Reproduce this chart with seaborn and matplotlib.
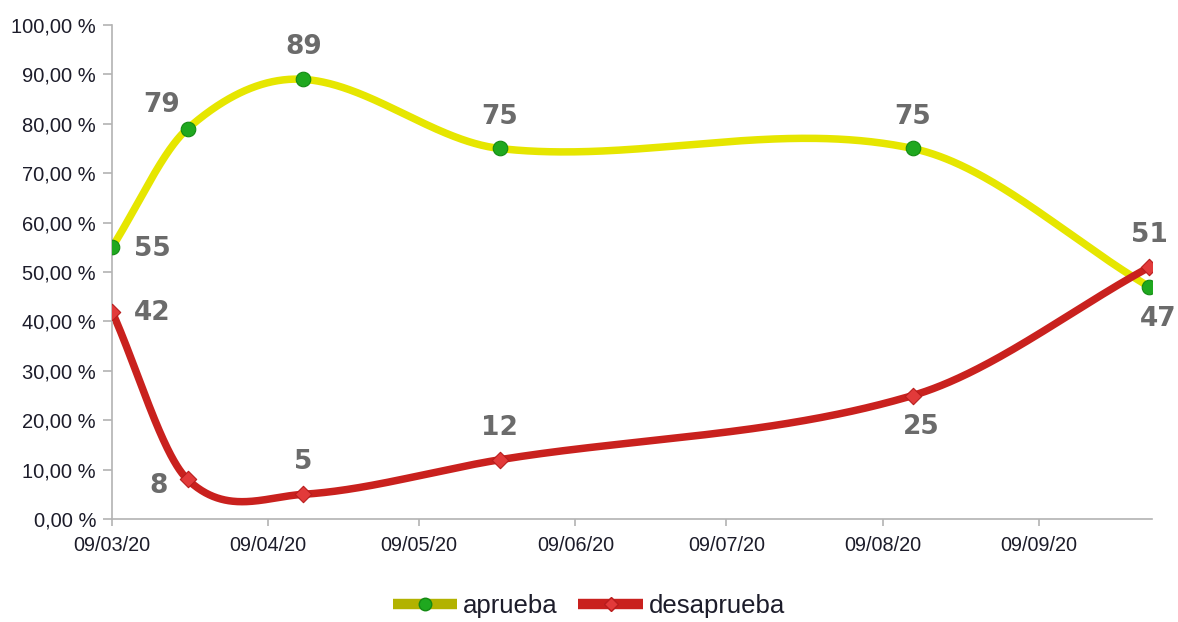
import numpy as np
import pandas as pd
import matplotlib
matplotlib.use("Agg")
import matplotlib.pyplot as plt
import matplotlib.dates as mdates
from matplotlib.lines import Line2D
from matplotlib.ticker import FuncFormatter
import seaborn as sns

# ====================== DATA ======================

dates      = ["2020-03-09", "2020-03-24", "2020-04-16", "2020-05-25", "2020-08-15", "2020-10-01"]
aprueba    = [55, 79, 89, 75, 75, 47]
desaprueba = [42, 8, 5, 12, 25, 51]
tick_dates = ["2020-03-09", "2020-04-09", "2020-05-09", "2020-06-09",
              "2020-07-09", "2020-08-09", "2020-09-09"]

# where each value label sits relative to its marker
apr_label_side = ["right", "upleft", "above", "above", "above", "below"]
des_label_side = ["right", "left", "above", "above", "below", "above"]

# ====================== STYLE ======================

YELLOW      = "#e6e600"
YELLOW_LEG  = "#b2b200"
GREEN       = "#1fa81f"
RED         = "#c9211e"
RED_MARK    = "#e23a3a"
AXIS_GREY   = "#b3b3b3"
LABEL_GREY  = "#6b6b6b"
TEXT_DARK   = "#1c1c2a"

OFFSETS = {  # points
    "right":  (29, -1),
    "left":   (-21, -5),
    "upleft": (-19, 17),
    "above":  (0, 23),
    "below":  (6, -23),
}


def smooth_curve(x, y, n=150):
    """Hermite curve with finite-difference tangents (smoothed line look)."""
    x = np.asarray(x, float)
    y = np.asarray(y, float)
    m = np.empty(len(x))
    m[0]  = (y[1] - y[0]) / (x[1] - x[0])
    m[-1] = (y[-1] - y[-2]) / (x[-1] - x[-2])
    m[1:-1] = (y[2:] - y[:-2]) / (x[2:] - x[:-2])
    s = np.linspace(0, 1, n)
    h00 = 2 * s**3 - 3 * s**2 + 1
    h10 = s**3 - 2 * s**2 + s
    h01 = -2 * s**3 + 3 * s**2
    h11 = s**3 - s**2
    xs, ys = [], []
    for i in range(len(x) - 1):
        h = x[i + 1] - x[i]
        xs.append(x[i] + s * h)
        ys.append(h00 * y[i] + h10 * h * m[i] + h01 * y[i + 1] + h11 * h * m[i + 1])
    return np.concatenate(xs), np.concatenate(ys)


# ====================== PLOT ======================

sns.set_theme(style="white")
plt.rcParams["font.family"] = ["Liberation Sans", "DejaVu Sans"]

df = pd.DataFrame({
    "fecha": mdates.date2num(pd.to_datetime(dates)),
    "aprueba": aprueba,
    "desaprueba": desaprueba,
})

fig = plt.figure(figsize=(11.78, 6.22), dpi=100)
ax = fig.add_axes([112 / 1178, 103 / 622, 1040 / 1178, 494 / 622])

for col, color in [("aprueba", YELLOW), ("desaprueba", RED)]:
    xs, ys = smooth_curve(df["fecha"], df[col])
    sns.lineplot(x=xs, y=ys, ax=ax, color=color, linewidth=5.4,
                 solid_capstyle="round", sort=False, estimator=None, zorder=2)

sns.scatterplot(data=df, x="fecha", y="aprueba", ax=ax, marker="o", s=110,
                color=GREEN, edgecolor="#138a13", linewidth=0.8, zorder=4)
sns.scatterplot(data=df, x="fecha", y="desaprueba", ax=ax, marker="D", s=70,
                color=RED_MARK, edgecolor="#b81c1c", linewidth=0.8, zorder=5)

for col, sides in [("aprueba", apr_label_side), ("desaprueba", des_label_side)]:
    for xv, yv, side in zip(df["fecha"], df[col], sides):
        ax.annotate(f"{yv}", (xv, yv), xytext=OFFSETS[side], textcoords="offset points",
                    ha="center", va="center", fontsize=19, fontweight="bold",
                    color=LABEL_GREY, family="DejaVu Sans", zorder=6)

# axes
x0 = mdates.date2num(pd.Timestamp("2020-03-09"))
x1 = mdates.date2num(pd.Timestamp("2020-10-01")) + 0.5
ax.set_xlim(x0, x1)
ax.set_ylim(0, 100)
ax.set_xticks(mdates.date2num(pd.to_datetime(tick_dates)))
ax.xaxis.set_major_formatter(mdates.DateFormatter("%d/%m/%y"))
ax.set_yticks(np.arange(0, 101, 10))
ax.yaxis.set_major_formatter(FuncFormatter(lambda v, _: f"{v:.2f} %".replace(".", ",")))
ax.set_xlabel("")
ax.set_ylabel("")

sns.despine(ax=ax)
for s in ["left", "bottom"]:
    ax.spines[s].set_color(AXIS_GREY)
    ax.spines[s].set_linewidth(1.2)
ax.tick_params(axis="y", which="major", left=True, length=6.5, width=1.2,
               color=AXIS_GREY, pad=5, labelsize=14.5, labelcolor=TEXT_DARK)
ax.tick_params(axis="x", which="major", bottom=True, length=5, width=1.2,
               color=AXIS_GREY, pad=7, labelsize=14.3, labelcolor=TEXT_DARK)
ax.grid(False)

# legend
handles = [
    Line2D([], [], color=YELLOW_LEG, linewidth=7.5, solid_capstyle="butt", marker="o",
           markersize=9, markerfacecolor=GREEN, markeredgecolor="#138a13"),
    Line2D([], [], color=RED, linewidth=7.5, solid_capstyle="butt", marker="D",
           markersize=7, markerfacecolor=RED_MARK, markeredgecolor="#b81c1c"),
]
fig.legend(handles, ["aprueba", "desaprueba"], loc="center",
           bbox_to_anchor=(0.5, 1 - 606 / 622), ncol=2, frameon=False,
           fontsize=18.5, handlelength=2.5, handletextpad=0.25, columnspacing=0.8,
           labelcolor=TEXT_DARK)

fig.savefig("out.png", dpi=100)
